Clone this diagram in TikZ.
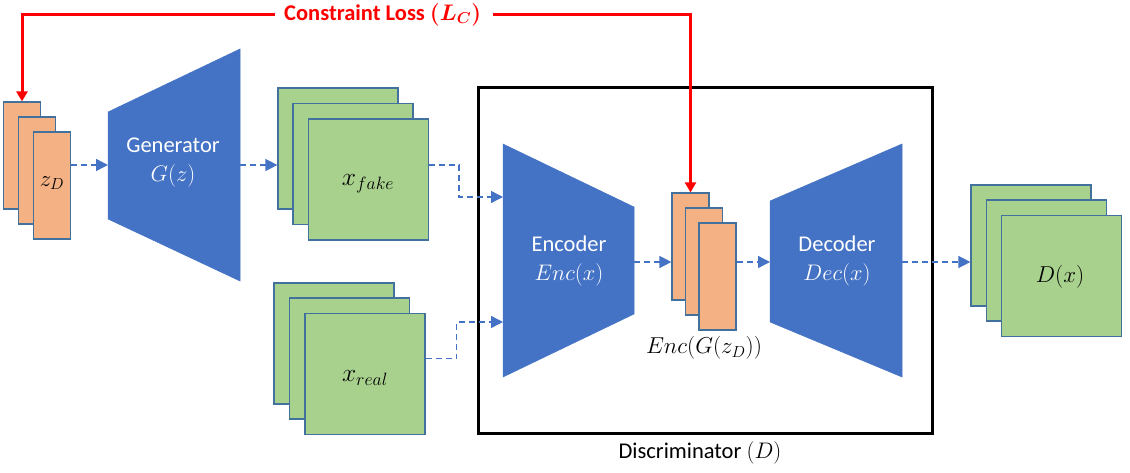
\RequirePackage{fix-cm}
\documentclass[tikz,border=0pt]{standalone}
\usepackage{fontspec}
\setmainfont{Carlito}
\usetikzlibrary{arrows.meta,calc}
\definecolor{blueF}{HTML}{4472C4}
\definecolor{orangeF}{HTML}{F4B183}
\definecolor{greenF}{HTML}{A9D18E}
\definecolor{edgeB}{HTML}{41719C}
\definecolor{redL}{HTML}{FF0000}
\begin{document}
\begin{tikzpicture}[x=1pt,y=-1pt,
  orect/.style={draw=edgeB,fill=orangeF,line width=1.2pt,minimum width=37pt,minimum height=107pt,inner sep=0pt},
  grect/.style={draw=edgeB,fill=greenF,line width=1.2pt,minimum width=120pt,minimum height=121pt,inner sep=0pt},
  trap/.style={fill=blueF,draw=blueF,line width=0.5pt},
  flow/.style={draw=blueF,line width=1.4pt,dash pattern=on 6pt off 4pt,-{Triangle[length=12pt,width=12pt]}},
  loss/.style={draw=redL,line width=3pt,-{Triangle[length=10pt,width=11pt]}},
  wtext/.style={text=white,align=center,font=\fontsize{22.5}{29}\selectfont},
  mtext/.style={font=\fontsize{23}{28}\selectfont,inner sep=0pt},
  xtext/.style={font=\fontsize{25.5}{30}\selectfont,inner sep=0pt}]
\useasboundingbox (0,0) rectangle (1130,473);

% discriminator box
\node[draw=black,line width=3pt,minimum width=454pt,minimum height=345pt,inner sep=0pt] (disc) at (705,260.5) {};
\node[font=\fontsize{22.5}{27}\selectfont,inner sep=0pt] (disclabel) at (700,453) {Discriminator $(D)$};

% z_D stack
\node[orect] (z1) at (22,155.5) {};
\node[orect] (z2) at (37,170.5) {};
\node[orect] (z3) at (52,185.5) {};
\node[mtext] (zlab) at (52,183) {$z_D$};

% generator
\path[trap] (108,112) -- (240,49) -- (240,281) -- (108,219) -- cycle;
\coordinate (genin) at (108,165);
\coordinate (genout) at (240,165);
\node[wtext] (gentext) at (173,163) {Generator\\$G(z)$};

% x_fake stack
\node[grect] (f1) at (338,148.5) {};
\node[grect] (f2) at (353,164) {};
\node[grect] (f3) at (368.5,179.5) {};
\node[xtext] (flab) at (368,184) {$x_{fake}$};

% x_real stack
\node[grect] (r1) at (334,343.5) {};
\node[grect] (r2) at (349.5,358.5) {};
\node[grect] (r3) at (365,374) {};
\node[xtext] (rlab) at (365,378) {$x_{real}$};

% encoder
\path[trap] (503,144) -- (634,207) -- (634,314) -- (503,377) -- cycle;
\coordinate (encin1) at (503,197);
\coordinate (encin2) at (503,322);
\coordinate (encout) at (634,262);
\node[wtext] (enctext) at (569,261) {Encoder\\$Enc(x)$};

% latent stack
\node[orect] (e1) at (690.5,246.5) {};
\node[orect] (e2) at (704,261.5) {};
\node[orect] (e3) at (717.5,276.5) {};
\node[mtext] (elab) at (704,348) {$Enc(G(z_D))$};

% decoder
\path[trap] (770,201) -- (902,144) -- (902,377) -- (770,322) -- cycle;
\coordinate (decin) at (770,262);
\coordinate (decout) at (902,262);
\node[wtext] (dectext) at (837,261) {Decoder\\$Dec(x)$};

% D(x) stack
\node[grect] (d1) at (1031,245.5) {};
\node[grect] (d2) at (1046.5,260.5) {};
\node[grect] (d3) at (1061.5,276) {};
\node[mtext] (dlab) at (1060,277) {$D(x)$};

% flows
\draw[flow] (z3.east |- genin) -- (genin);
\draw[flow] (genout) -- (genout -| f1.west);
\draw[flow] (f3.east |- genout) -- ++(30,0) |- (encin1);
\draw[flow] (r3.east |- r2.center) -- ++(31,0) |- (encin2);
\draw[flow] (encout) -- (encout -| e1.west);
\draw[flow] (e3.east |- encout) -- (decin);
\draw[flow] (decout) -- (decout -| d1.west);

% constraint loss
\node[text=redL,font=\bfseries\boldmath\fontsize{22.5}{27}\selectfont,inner sep=0pt,anchor=west] (losstext) at (284,15) {Constraint Loss $(L_C)$};
\coordinate (lossL) at (275,15);
\coordinate (lossR) at (493,15);
\draw[loss] (lossL) -| (z1.north);
\draw[loss] (lossR) -| (e1.north);
\end{tikzpicture}
\end{document}
